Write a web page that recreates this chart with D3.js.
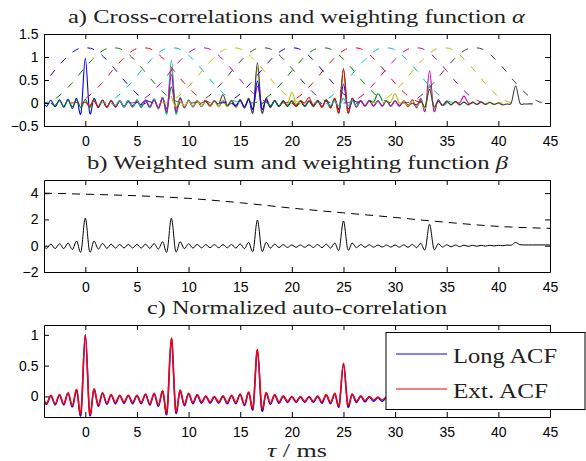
<!DOCTYPE html>
<html>
<head>
<meta charset="utf-8">
<script src="https://cdn.jsdelivr.net/npm/d3@7"></script>
<style>
  body { margin: 0; background: #fff; }
  svg { display: block; }
</style>
</head>
<body>
<svg id="fig" width="586" height="461"></svg>
<script>
// Lag grid: samples are stored every half ripple period (8.333 ms / 20).
const LAG_STEP = 25 / 60; // ms
const xTicks = [0, 5, 10, 15, 20, 25, 30, 35, 40, 45];

// ---- a) cross-correlations (first sample index on the lag grid + values)
const xcBlue1    = [0.03,-0.07,0.06,-0.08,0.07,-0.09,0.08,-0.12,0.10,-0.22, 0.97,-0.21,0.10,-0.10,0.06,-0.09,0.05,-0.08,0.04,-0.07, 0.03,-0.06,0.02,-0.04,0.00];
const xcGreen1   = [0.00,-0.05,0.05,-0.07,0.06,-0.08,0.07,-0.10, 0.08,-0.10,0.08,-0.09,0.06,-0.09,0.05,-0.08,0.05,-0.08, 0.05,-0.08,0.05,-0.08,0.06,-0.09,0.08,-0.10,0.10,-0.12, 0.35,-0.10,0.02];
const xcRed1     = [-0.03, 0.02,-0.06,0.05,-0.08,0.06,-0.09,0.06,-0.09,0.05,-0.09, 0.05,-0.09,0.06,-0.10,0.06,-0.10,0.08,-0.13,0.12,-0.20, 0.75,-0.20,0.10,-0.10,0.05,-0.07,0.03,-0.03];
const xcCyan1    = [0.00,-0.05,0.05,-0.08, 0.06,-0.08,0.07,-0.09,0.07,-0.10,0.09,-0.12,0.12,-0.22, 0.93,-0.22,0.12,-0.11,0.07,-0.09,0.06,-0.08,0.05,-0.08, 0.05,-0.07,0.04,-0.05,0.00];
const xcMagenta1 = [-0.02,0.04,-0.07,0.06,-0.10,0.10,-0.17, 0.62,-0.17,0.10,-0.09,0.06,-0.08,0.05,-0.08,0.05,-0.08, 0.05,-0.08,0.05,-0.08,0.06,-0.09,0.07,-0.10,0.08,-0.12, 0.36,-0.10];
const xcYellow1  = [0.15,-0.08,0.05,-0.07,0.05,-0.07,0.05,-0.07,0.05,-0.08, 0.05,-0.08,0.06,-0.08,0.06,-0.09,0.08,-0.11,0.10,-0.18, 0.78,-0.20,0.10,-0.09,0.05,-0.06,0.04,-0.03,0.23,-0.02, 0.00];
const xcGray1    = [0.00,0.03,-0.05, 0.05,-0.02,0.18,-0.05,0.05,-0.08,0.07,-0.11,0.10,-0.20, 0.88,-0.20,0.10,-0.10,0.06,-0.08,0.05,-0.07,0.05,-0.07, 0.04,-0.06,0.04,-0.05,0.03,-0.02];
const xcBlue2    = [0.00,-0.05,0.05,-0.08,0.07,-0.13, 0.48,-0.13,0.07,-0.08,0.05,-0.07,0.04,-0.07,0.04,-0.07, 0.04,-0.07,0.04,-0.07,0.05,-0.08,0.06,-0.09,0.08,-0.13, 0.41,-0.12,0.05];
const xcGreen2   = [-0.02,0.03,-0.06,0.04,-0.07,0.05,-0.07,0.05,-0.08, 0.05,-0.08,0.05,-0.08,0.06,-0.09,0.07,-0.11,0.10,-0.20, 0.75,-0.20,0.10,-0.08,0.05,-0.06,0.06,0.02,0.20,0.05];
const xcRed2     = [0.00,-0.05, 0.05,0.00,0.12,-0.05,0.05,-0.09,0.07,-0.11,0.10,-0.20, 0.73,-0.20,0.10,-0.09,0.06,-0.07,0.05,-0.06,0.05,-0.06, 0.05,-0.06,0.04,-0.05,0.04,-0.04,0.00];
const xcCyan2    = [0.00,-0.05,0.04,-0.07, 0.10,-0.07,0.05,-0.07,0.05,-0.07,0.05,-0.07,0.05,-0.07, 0.05,-0.07,0.05,-0.08,0.05,-0.08,0.06,-0.09,0.08,-0.12, 0.40,-0.12,0.06,-0.05,0.00];
const xcMagenta2 = [-0.02,0.04,-0.06,0.05,-0.07,0.05,-0.07, 0.05,-0.07,0.05,-0.07,0.05,-0.08,0.07,-0.10,0.10,-0.17, 0.70,-0.17,0.07,-0.06,0.04,-0.04,0.03,0.00,0.15,0.00, 0.00];
const xcYellow2  = [0.00, 0.03,0.02,0.20,0.00,0.04,-0.06,0.05,-0.08,0.06,-0.12, 0.35,-0.10,0.05,-0.05,0.03,-0.04,0.02,-0.04,0.02,-0.04, 0.02,-0.03,0.02,-0.03,0.02,-0.03,0.01,-0.01];
const xcGray2    = [0.00,-0.04,0.04,-0.08, 0.30,-0.08,0.04,-0.05,0.03,-0.04,0.03,-0.04,0.02,-0.04, 0.02,-0.03,0.02,-0.03,0.01,-0.03,0.00,-0.04,-0.02,0.00, 0.37,0.00,-0.02,-0.02,-0.02];
const xcStarts   = [-10, -8, -1, 6, 13, 20, 27, 34, 41, 48, 56, 63, 69, 76];

// weighting windows alpha: centres (ms) and common profile
const alphaCenters = [0, 2.7, 5.6, 8.4, 11.3, 14.3, 17.2, 20.0, 23.0, 26.0, 29.1, 32.0, 34.7, 37.7];
const alphaOffsets = [-7,-6.5,-6,-5.5,-5,-4.5,-4,-3.5,-3,-2.5,-2,-1.5,-1,-0.5,0,0.5,1,1.5,2,2.5,3,3.5,4,4.5,5,5.5,6,6.5,7];
const alphaShape   = [0,0.01,0.05,0.11,0.20,0.31,0.43,0.56,0.70,0.83,0.95,1.06,1.14,1.19,1.20,1.19,1.14,1.06,0.95,0.83,0.70,0.56,0.43,0.31,0.20,0.11,0.05,0.01,0];
const seriesColors = ["#0000ff","#008000","#ff0000","#00bfbf","#bf00bf","#bfbf00","#404040"];

// ---- b) weighted sum (starts at grid index -10) and beta
const weightedSum = [
  0.10,-0.20,0.12,-0.22,0.15,-0.22,0.20,-0.28,0.35,-0.45,
  2.10,-0.45,0.35,-0.25,0.18,-0.20,0.12,-0.18,0.10,-0.17,
  0.10,-0.17,0.10,-0.18,0.12,-0.20,0.16,-0.25,0.30,-0.45,
  2.10,-0.42,0.30,-0.22,0.15,-0.18,0.10,-0.16,0.08,-0.15,
  0.08,-0.15,0.08,-0.16,0.10,-0.18,0.14,-0.22,0.25,-0.40,
  1.95,-0.38,0.25,-0.18,0.12,-0.14,0.08,-0.13,0.06,-0.12,
  0.06,-0.12,0.07,-0.13,0.09,-0.15,0.12,-0.18,0.20,-0.30,
  1.88,-0.28,0.20,-0.15,0.10,-0.12,0.07,-0.11,0.05,-0.10,
  0.05,-0.10,0.05,-0.11,0.07,-0.12,0.10,-0.15,0.18,-0.28,
  1.63,-0.25,0.15,-0.10,0.07,-0.08,0.05,-0.07,0.04,-0.05,
  0.03,-0.04,0.03,-0.03,0.03,-0.02,0.03,0.00,0.05,0.04,
  0.25,0.08,0.06,0.06,0.06,0.06,0.06,0.06,0.06];
const betaLags   = [-4, 0, 5, 10, 15, 20, 25, 30, 33.3, 35, 40, 45];
const betaValues = [4.0, 3.92, 3.8, 3.6, 3.27, 2.86, 2.5, 2.15, 1.9, 1.78, 1.47, 1.32];

// ---- c) normalized auto-correlation (starts at grid index -10)
const longAcf = [
  0.00,-0.13,0.01,-0.14,0.02,-0.14,0.05,-0.17,0.10,-0.29,
  1.00,-0.29,0.11,-0.16,0.05,-0.13,0.02,-0.12,0.01,-0.11,
  0.01,-0.12,0.01,-0.12,0.03,-0.14,0.04,-0.16,0.08,-0.27,
  0.93,-0.25,0.09,-0.15,0.04,-0.12,0.02,-0.11,0.00,-0.11,
  -0.01,-0.11,0.00,-0.12,0.01,-0.12,0.03,-0.15,0.06,-0.20,
  0.75,-0.22,0.05,-0.13,0.02,-0.11,0.00,-0.10,-0.01,-0.10,
  -0.01,-0.10,-0.01,-0.10,0.00,-0.11,0.02,-0.12,0.04,-0.16,
  0.53,-0.16,0.03,-0.10,0.00,-0.09,-0.01,-0.08,-0.02,-0.08,
  -0.02,-0.08,-0.03];
const extAcf = [
  0.01,-0.11,0.02,-0.12,0.03,-0.12,0.06,-0.15,0.11,-0.26,
  1.00,-0.26,0.12,-0.14,0.06,-0.11,0.03,-0.10,0.02,-0.09,
  0.02,-0.10,0.02,-0.10,0.04,-0.12,0.05,-0.14,0.09,-0.24,
  0.95,-0.22,0.10,-0.13,0.05,-0.10,0.03,-0.09,0.01,-0.09,
  0.00,-0.09,0.01,-0.10,0.02,-0.10,0.04,-0.13,0.07,-0.17,
  0.76,-0.18,0.06,-0.11,0.03,-0.09,0.01,-0.08,0.00,-0.08,
  0.00,-0.08,0.00,-0.08,0.01,-0.09,0.03,-0.10,0.05,-0.14,
  0.54,-0.13,0.04,-0.08,0.01,-0.07,0.00,-0.06,-0.01,-0.06,
  -0.01,-0.06,-0.02];
const acfStart = -10;
const legendLabels = ["Long ACF", "Ext. ACF"];

// ---------------------------------------------------------------------------
const svg = d3.select("#fig");
const x = d3.scaleLinear().domain([-4, 45]).range([44, 550]);
const onGrid = (vals, start) => vals.map((v, i) => [(start + i) * LAG_STEP, v]);

function makePanel(id, top, bottom, yDomain, yTicks, yFmt) {
  const y = d3.scaleLinear().domain(yDomain).range([bottom, top]);
  svg.append("clipPath").attr("id", id)
    .append("rect").attr("x", x.range()[0]).attr("y", top)
    .attr("width", x.range()[1] - x.range()[0]).attr("height", bottom - top);
  const plot = svg.append("g").attr("clip-path", `url(#${id})`);
  // sampled signals: smooth spline through the stored extrema
  const line = d3.line().x(d => x(d[0])).y(d => y(d[1])).curve(d3.curveCardinal.tension(0));
  // slowly varying weights
  const smooth = d3.line().x(d => x(d[0])).y(d => y(d[1])).curve(d3.curveMonotoneX);
  return { y, plot, line, smooth, top, bottom, yTicks, yFmt };
}

function drawAxes(p) {
  const g = svg.append("g");
  const styleAxis = sel => {
    sel.select(".domain").attr("stroke", "#000").attr("stroke-width", 1);
    sel.selectAll(".tick line").attr("stroke", "#000").attr("stroke-width", 1);
    sel.selectAll(".tick text").attr("fill", "#000")
      .style("font-family", "'Liberation Sans', Arial, sans-serif").style("font-size", "14px");
  };
  g.append("g").attr("transform", `translate(0,${p.bottom})`)
    .call(d3.axisBottom(x).tickValues(xTicks).tickSizeInner(-5).tickSizeOuter(0).tickPadding(10.5))
    .call(styleAxis);
  g.append("g").attr("transform", `translate(0,${p.top})`)
    .call(d3.axisTop(x).tickValues(xTicks).tickSizeInner(-5).tickSizeOuter(0).tickFormat(""))
    .call(styleAxis);
  g.append("g").attr("transform", `translate(${x.range()[0]},0)`)
    .call(d3.axisLeft(p.y).tickValues(p.yTicks).tickSizeInner(-5).tickSizeOuter(0).tickPadding(5.5).tickFormat(p.yFmt))
    .call(styleAxis);
  g.append("g").attr("transform", `translate(${x.range()[1]},0)`)
    .call(d3.axisRight(p.y).tickValues(p.yTicks).tickSizeInner(-5).tickSizeOuter(0).tickFormat(""))
    .call(styleAxis);
}

const fmt = d => (d < 0 ? "\u2212" : "") + Math.abs(d);

function title(parts, xStart, baseline, len, size) {
  const t = svg.append("text").attr("x", xStart).attr("y", baseline)
    .attr("textLength", len).attr("lengthAdjust", "spacingAndGlyphs")
    .style("font-family", "'Liberation Serif', 'Times New Roman', serif")
    .style("font-size", size + "px").attr("fill", "#222");
  parts.forEach(([s, italic]) => t.append("tspan").text(s).style("font-style", italic ? "italic" : "normal"));
  return t;
}

// ---- panel a
const pa = makePanel("clipA", 34, 126, [-0.5, 1.5], [-0.5, 0, 0.5, 1, 1.5], fmt);
const crossCorr = [xcBlue1, xcGreen1, xcRed1, xcCyan1, xcMagenta1, xcYellow1, xcGray1,
                   xcBlue2, xcGreen2, xcRed2, xcCyan2, xcMagenta2, xcYellow2, xcGray2];
crossCorr.forEach((vals, k) => {
  pa.plot.append("path").datum(onGrid(vals, xcStarts[k]))
    .attr("d", pa.line).attr("fill", "none")
    .attr("stroke", seriesColors[k % 7]).attr("stroke-width", 1.1);
});
alphaCenters.forEach((c, k) => {
  const pts = alphaOffsets.map((o, i) => [c + o, alphaShape[i]]);
  pa.plot.append("path").datum(pts).attr("d", pa.smooth).attr("fill", "none")
    .attr("stroke", seriesColors[k % 7]).attr("stroke-width", 1)
    .attr("stroke-dasharray", "7,9");
});
drawAxes(pa);
title([["a) Cross-correlations and weighting function ", false], ["\u03b1", true]], 68, 23, 457, 19);

// ---- panel b
const pb = makePanel("clipB", 180, 272, [-2, 5], [-2, 0, 2, 4], fmt);
pb.plot.append("path").datum(betaLags.map((t, i) => [t, betaValues[i]]))
  .attr("d", pb.smooth).attr("fill", "none").attr("stroke", "#000")
  .attr("stroke-width", 1).attr("stroke-dasharray", "8,6");
pb.plot.append("path").datum(onGrid(weightedSum, -10))
  .attr("d", pb.line).attr("fill", "none").attr("stroke", "#000").attr("stroke-width", 1);
drawAxes(pb);
title([["b) Weighted sum and weighting function ", false], ["\u03b2", true]], 87, 169, 421, 19);

// ---- panel c
const pc = makePanel("clipC", 325, 417, [-0.335, 1.16], [0, 0.5, 1], fmt);
pc.plot.append("path").datum(onGrid(longAcf, acfStart))
  .attr("d", pc.line).attr("fill", "none").attr("stroke", "#0000ff").attr("stroke-width", 1.5);
pc.plot.append("path").datum(onGrid(extAcf, acfStart))
  .attr("d", pc.line).attr("fill", "none").attr("stroke", "#ff0000").attr("stroke-width", 1.5);
drawAxes(pc);
title([["c) Normalized auto-correlation", false]], 147, 314, 300, 19);

// x label
title([["\u03c4", true], [" / ms", false]], 267, 457, 60, 18);

// legend
const lg = svg.append("g");
lg.append("rect").attr("x", 386).attr("y", 332.5).attr("width", 199).attr("height", 77)
  .attr("fill", "#fff").attr("stroke", "#000").attr("stroke-width", 1);
const legendColors = ["#0000ff", "#ff0000"];
const legendY = [354, 389];
const legendLen = [104, 95];
legendLabels.forEach((lab, i) => {
  lg.append("line").attr("x1", 396).attr("x2", 447).attr("y1", legendY[i]).attr("y2", legendY[i])
    .attr("stroke", legendColors[i]).attr("stroke-width", 1.2);
  lg.append("text").attr("x", 453).attr("y", legendY[i] + 9)
    .attr("textLength", legendLen[i]).attr("lengthAdjust", "spacingAndGlyphs")
    .style("font-family", "'Liberation Serif', 'Times New Roman', serif")
    .style("font-size", "22px").attr("fill", "#222").text(lab);
});
</script>
</body>
</html>
